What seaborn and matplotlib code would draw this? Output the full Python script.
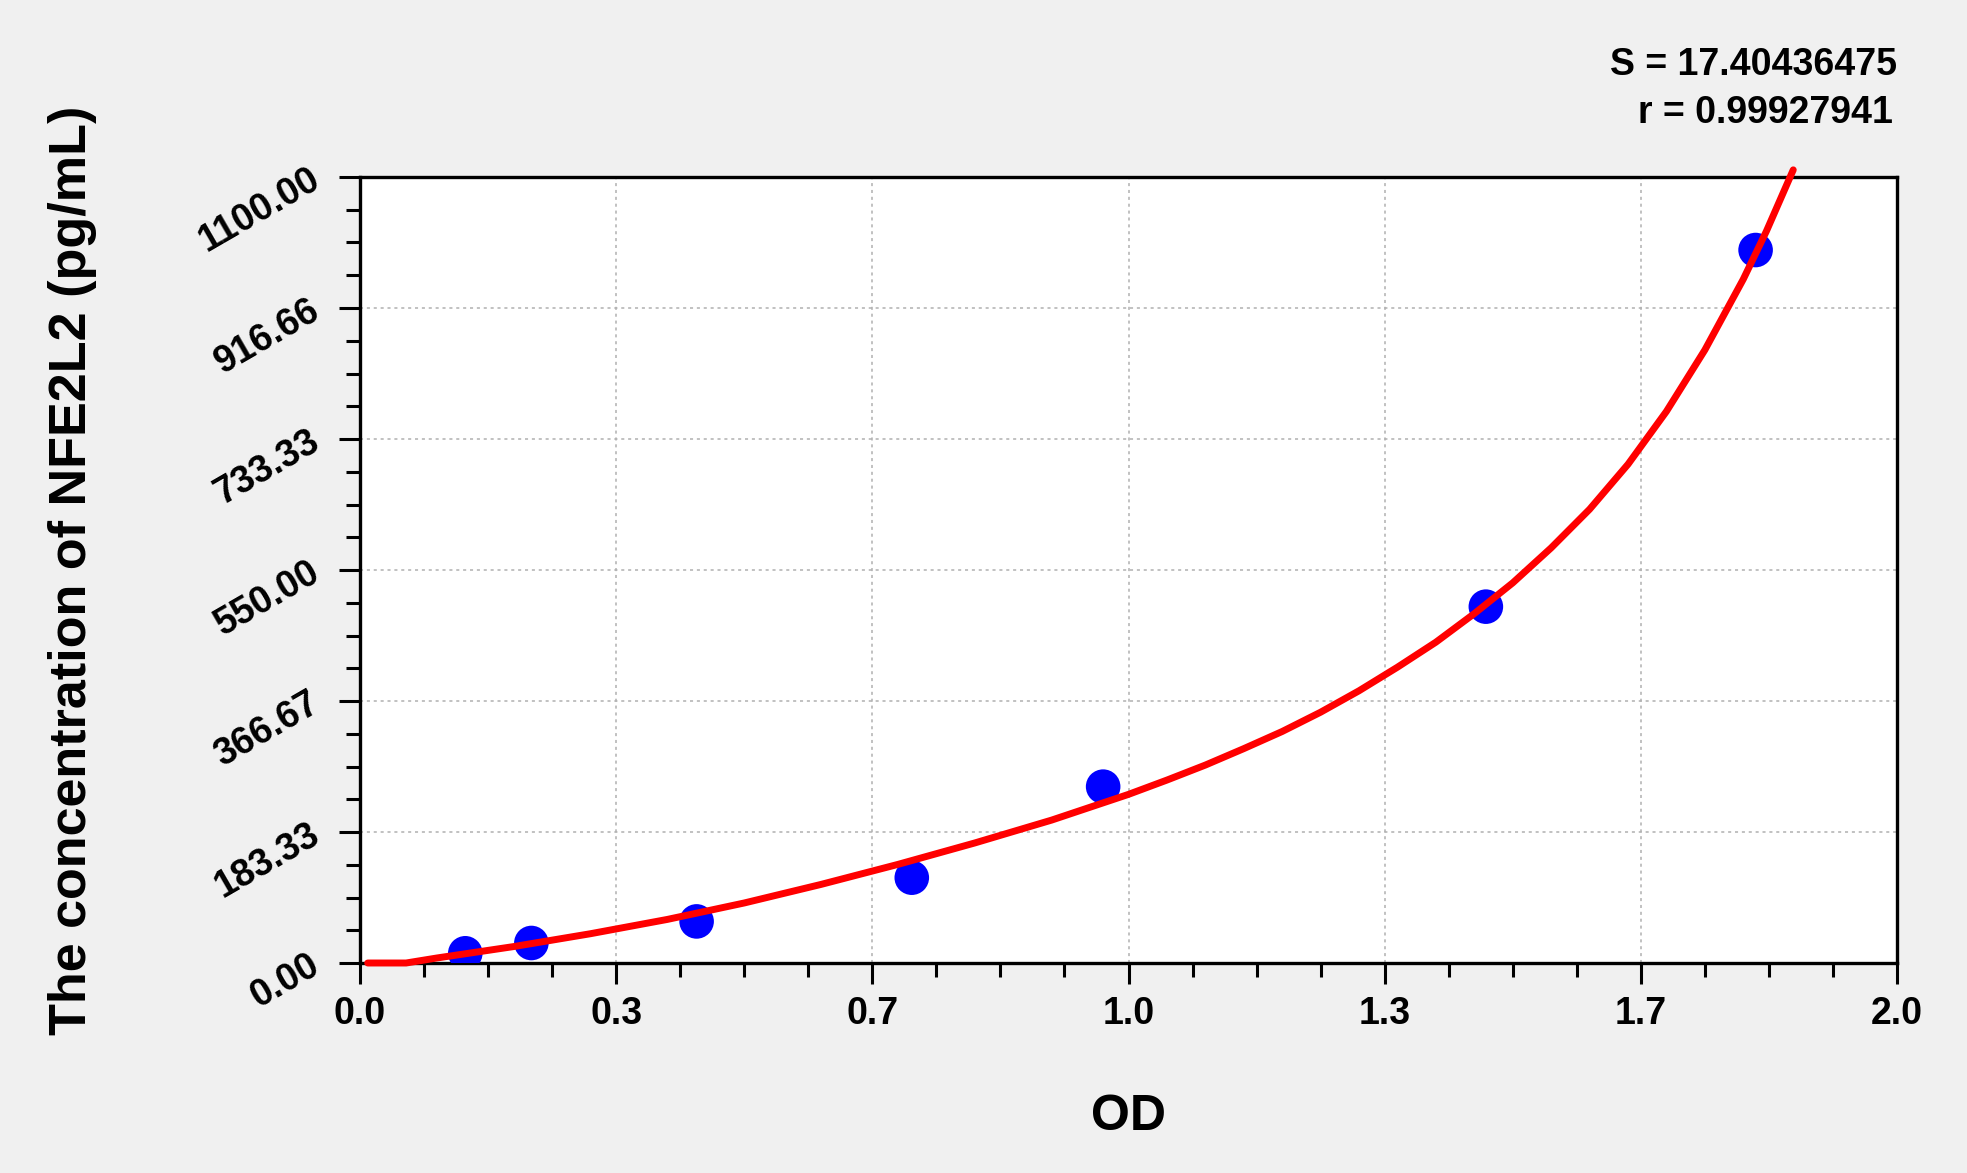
import numpy as np
import pandas as pd
import matplotlib
matplotlib.use("Agg")
import matplotlib.pyplot as plt
from matplotlib.ticker import FixedLocator, MultipleLocator
import seaborn as sns

# =============================================================
# PODACI (ocitano sa slike)
# =============================================================

# standardi: OD -> koncentracija
od_points = [0.137, 0.223, 0.438, 0.718, 0.967, 1.465, 1.816]
conc_points = [13.6, 28.0, 58.2, 119.4, 246.8, 498.7, 997.8]

# fitovana kriva
curve_od = [0.01, 0.06, 0.10, 0.20, 0.30, 0.40, 0.50, 0.60, 0.70, 0.80,
            0.90, 1.00, 1.05, 1.10, 1.15, 1.20, 1.25, 1.30, 1.35, 1.40,
            1.45, 1.50, 1.55, 1.60, 1.65, 1.70, 1.75, 1.80, 1.83, 1.865]
curve_conc = [0, 0, 7, 23, 41, 61, 84, 110, 138, 168,
              200, 236, 256, 277, 300, 324, 351, 381, 414, 449,
              489, 532, 581, 635, 698, 772, 858, 957, 1024, 1110]

x_ticks = [0, 1 / 3, 2 / 3, 1, 4 / 3, 5 / 3, 2]
x_tick_labels = ["0.0", "0.3", "0.7", "1.0", "1.3", "1.7", "2.0"]
y_ticks = [0, 183.33, 366.67, 550, 733.33, 916.66, 1100]
y_tick_labels = ["0.00", "183.33", "366.67", "550.00", "733.33", "916.66", "1100.00"]

fit_s = "S = 17.40436475"
fit_r = "r = 0.99927941"

df_pts = pd.DataFrame({"OD": od_points, "conc": conc_points})
df_curve = pd.DataFrame({"OD": curve_od, "conc": curve_conc})

# =============================================================
# STIL
# =============================================================

sns.set_style("white")
plt.rcParams["font.family"] = ["Liberation Sans", "DejaVu Sans"]
plt.rcParams["font.weight"] = "bold"
plt.rcParams["text.color"] = "black"
plt.rcParams["axes.labelcolor"] = "black"
plt.rcParams["xtick.color"] = "black"
plt.rcParams["ytick.color"] = "black"

fig = plt.figure(figsize=(19.67, 11.73), dpi=100, facecolor="#f0f0f0")
ax = fig.add_axes([360 / 1967, 1 - 963 / 1173, 1537 / 1967, 786 / 1173])
ax.set_facecolor("white")

# =============================================================
# CRTANJE
# =============================================================

sns.scatterplot(data=df_pts, x="OD", y="conc", ax=ax, s=620,
                color="#0000ff", edgecolor="none", zorder=3)
sns.lineplot(data=df_curve, x="OD", y="conc", ax=ax, color="#ff0000",
             lw=5, sort=False, estimator=None, zorder=4, clip_on=False,
             solid_joinstyle="round", solid_capstyle="round")

ax.set_xlim(0, 2)
ax.set_ylim(0, 1100)

ax.xaxis.set_major_locator(FixedLocator(x_ticks))
ax.set_xticklabels(x_tick_labels)
ax.xaxis.set_minor_locator(MultipleLocator(1 / 12))
ax.yaxis.set_major_locator(FixedLocator(y_ticks))
ax.set_yticklabels(y_tick_labels)
ax.yaxis.set_minor_locator(MultipleLocator(1100 / 24))

ax.tick_params(which="major", direction="out", length=15, width=2.2,
               color="black", labelcolor="black", labelsize=27)
ax.tick_params(which="minor", direction="out", length=10, width=2.2,
               color="black")
ax.tick_params(axis="x", which="major", pad=9)
ax.tick_params(axis="y", which="major", pad=16)
ax.tick_params(left=True, bottom=True, which="both")

for lab in ax.get_yticklabels():
    lab.set_rotation(30)
    lab.set_ha("right")
    lab.set_va("center")
    lab.set_rotation_mode("anchor")
    lab.set_fontweight("bold")
for lab in ax.get_xticklabels():
    lab.set_fontweight("bold")

for sp in ax.spines.values():
    sp.set_color("black")
    sp.set_linewidth(2.4)

ax.grid(True, which="major", color="#b0b0b0", linestyle=(0, (2, 2.5)), lw=1.1)
ax.set_axisbelow(True)

ax.set_xlabel("OD", fontsize=36, fontweight="bold", color="black")
ax.set_ylabel("The concentration of NFE2L2 (pg/mL)", fontsize=37.5,
              fontweight="bold", color="black")
ax.xaxis.set_label_coords(0.5, -0.167)
ax.yaxis.set_label_coords(-0.171, 0.5)

ax.text(1.0, 1.1425, fit_s, transform=ax.transAxes, ha="right", va="center",
        fontsize=27, fontweight="bold", color="black")
ax.text(0.997, 1.0814, fit_r, transform=ax.transAxes, ha="right", va="center",
        fontsize=27, fontweight="bold", color="black")

fig.savefig("out.png", dpi=100, facecolor=fig.get_facecolor())
plt.close(fig)
